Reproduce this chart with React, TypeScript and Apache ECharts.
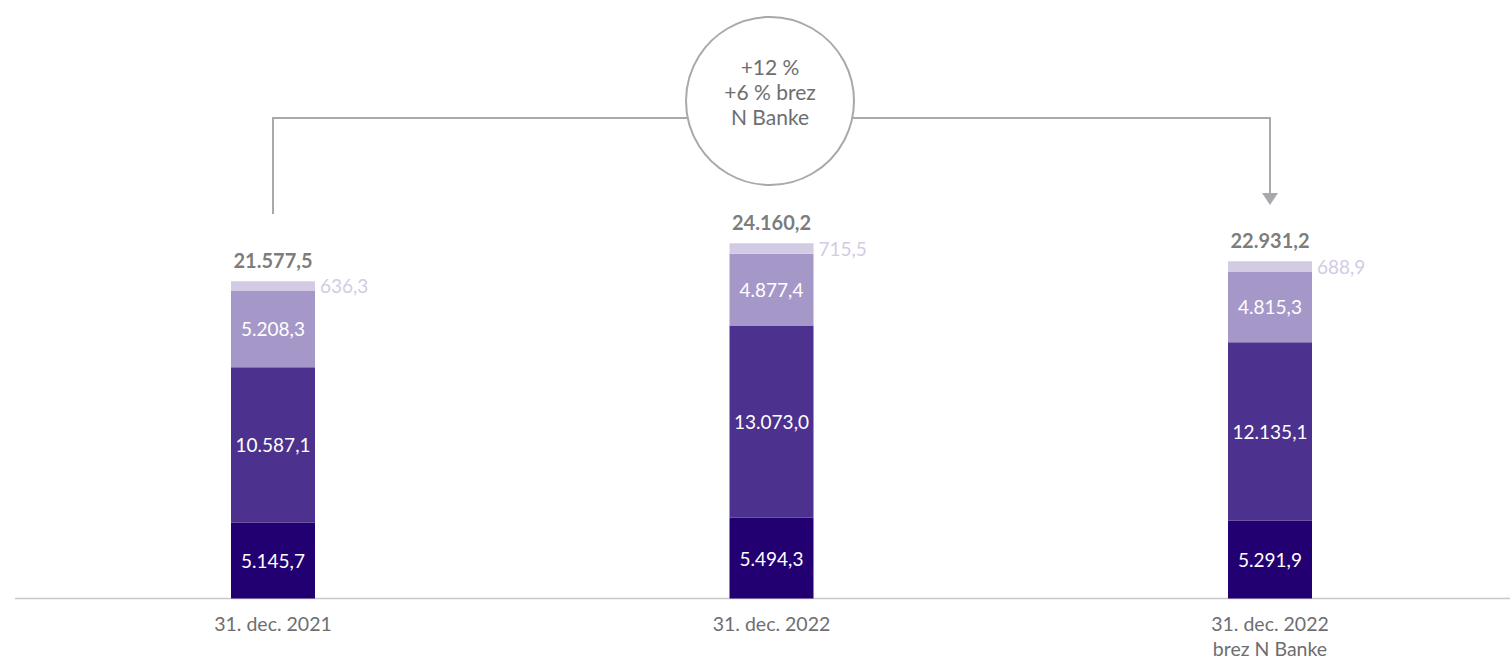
import React, { useEffect, useRef } from "react";
import * as echarts from "echarts";

const categories = ["31. dec. 2021", "31. dec. 2022", "31. dec. 2022\nbrez N Banke"];
const seg1 = [5145.7, 5494.3, 5291.9];
const seg2 = [10587.1, 13073.0, 12135.1];
const seg3 = [5208.3, 4877.4, 4815.3];
const seg4 = [636.3, 715.5, 688.9];
const totals = [21577.5, 24160.2, 22931.2];
const bubbleLines = ["+12 %", "+6 % brez", "N Banke"];

const colors = ["#230072", "#4c318e", "#a697c9", "#d3cbe4"];
const FONT = "Lato, 'Open Sans', sans-serif";

const fmt = (v: number) => {
  const [i, d] = v.toFixed(1).split(".");
  return i.replace(/\B(?=(\d{3})+(?!\d))/g, ".") + "," + d;
};

export default function App() {
  const ref = useRef<HTMLDivElement>(null);
  useEffect(() => {
    document.body.style.margin = "0";
    const chart = echarts.init(ref.current!, null, { renderer: "svg" });
    const inner = (data: number[], i: number) => ({
      type: "bar",
      stack: "s",
      data,
      barWidth: 84,
      itemStyle: { color: colors[i] },
      label: {
        show: true,
        position: "inside",
        color: "#ffffff",
        fontSize: 19,
        fontFamily: FONT,
        formatter: (p: any) => fmt(p.value),
      },
    });
    chart.setOption({
      animation: false,
      grid: { left: 23.75, width: 1495.5, top: 0, bottom: 60.5, outerBoundsMode: "none", containLabel: false },
      xAxis: {
        type: "category",
        data: categories,
        axisLine: { show: false },
        axisTick: { show: false },
        axisLabel: {
          color: "#6d6e71",
          fontSize: 19.5,
          fontFamily: FONT,
          margin: 12,
          lineHeight: 25,
        },
      },
      yAxis: { type: "value", min: 0, max: 40700, show: false, splitLine: { show: false } },
      series: [
        inner(seg1, 0),
        inner(seg2, 1),
        inner(seg3, 2),
        {
          type: "bar",
          stack: "s",
          data: seg4,
          barWidth: 84,
          itemStyle: { color: colors[3] },
          label: {
            show: true,
            position: "right",
            distance: 5,
            color: "#d3cbe4",
            fontSize: 19,
            fontFamily: FONT,
            formatter: (p: any) => fmt(p.value),
          },
        },
        {
          type: "scatter",
          data: totals,
          symbolSize: 0,
          silent: true,
          label: {
            show: true,
            position: "top",
            distance: 11,
            color: "#58595b",
            fontSize: 20,
            fontWeight: "bold",
            fontFamily: FONT,
            formatter: (p: any) => fmt(p.value),
          },
        },
      ],
    });

    const x0 = chart.convertToPixel({ xAxisIndex: 0 }, 0) as number;
    const x2 = chart.convertToPixel({ xAxisIndex: 0 }, 2) as number;
    const base = chart.convertToPixel({ yAxisIndex: 0 }, 0) as number;
    const cx = 770;
    const cy = 101;
    const r = 84;
    const lineY = 118;
    const gray = "#a7a9ac";
    const dx = Math.sqrt(r * r - (lineY - cy) * (lineY - cy));
    chart.setOption({
      graphic: [
        { type: "line", shape: { x1: 15, y1: base, x2: 1510, y2: base }, style: { stroke: "#c8c8c8", lineWidth: 1.5 } },
        {
          type: "polyline",
          shape: { points: [[x0, 214], [x0, lineY], [cx - dx, lineY]] },
          style: { stroke: gray, lineWidth: 2, fill: null },
        },
        {
          type: "polyline",
          shape: { points: [[cx + dx, lineY], [x2, lineY], [x2, 194]] },
          style: { stroke: gray, lineWidth: 2, fill: null },
        },
        {
          type: "polygon",
          shape: { points: [[x2 - 8, 193], [x2 + 8, 193], [x2, 205]] },
          style: { fill: gray },
        },
        {
          type: "circle",
          shape: { cx, cy, r },
          style: { stroke: gray, lineWidth: 2, fill: "#ffffff" },
        },
        {
          type: "text",
          x: cx,
          y: cy - 10,
          style: {
            text: bubbleLines.join("\n"),
            fill: "#6d6e71",
            fontSize: 21,
            fontFamily: FONT,
            lineHeight: 25,
            align: "center",
            verticalAlign: "middle",
          },
        },
      ],
    });
    return () => chart.dispose();
  }, []);
  return <div ref={ref} style={{ width: 1510, height: 659 }} />;
}
